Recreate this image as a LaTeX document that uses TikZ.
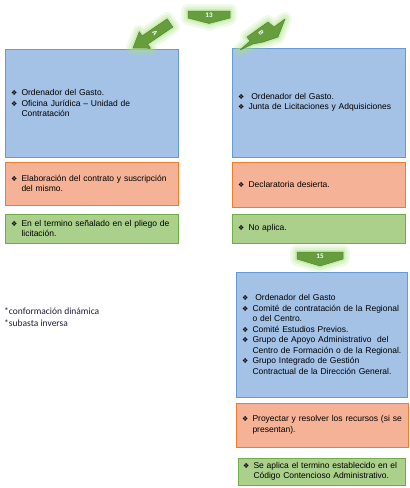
\documentclass[tikz,border=0pt]{standalone}
\usepackage{fontspec}
\setmainfont{Liberation Sans}
\newfontfamily\notefont{Carlito}
\newfontfamily\dingfont{DejaVu Sans}

\definecolor{bluefill}{RGB}{164,194,230}
\definecolor{blueline}{RGB}{100,155,215}
\definecolor{orangefill}{RGB}{246,178,150}
\definecolor{orangeline}{RGB}{237,125,49}
\definecolor{greenfill}{RGB}{170,208,140}
\definecolor{greenline}{RGB}{112,173,71}
\definecolor{arrowfill}{RGB}{102,158,62}
\definecolor{arrowline}{RGB}{84,136,48}
\definecolor{glowgreen}{RGB}{170,225,130}
\definecolor{notetext}{RGB}{30,30,60}

\newcommand{\bul}{\makebox[10.5pt][l]{\dingfont\fontsize{7}{7}\selectfont ❖}}
\newcommand{\hind}{\hspace*{10.5pt}}

\begin{document}
\begin{tikzpicture}[x=1pt,y=-1pt]
\tikzset{
  stagebox/.style={draw,line width=0.8pt,inner xsep=6pt,inner ysep=0pt,align=left,
    font=\fontsize{8.5}{10.5}\selectfont},
  bluebox/.style={stagebox,fill=bluefill,draw=blueline},
  orangebox/.style={stagebox,fill=orangefill,draw=orangeline},
  greenbox/.style={stagebox,fill=greenfill,draw=greenline},
  glowing/.style={
    preaction={draw=glowgreen,line width=14pt,opacity=0.18,line join=round},
    preaction={draw=glowgreen,line width=9pt,opacity=0.25,line join=round},
    preaction={draw=glowgreen,line width=4pt,opacity=0.4,line join=round}},
  greenshape/.style={glowing,fill=arrowfill,draw=arrowline,line width=0.5pt,line join=round},
  taglabel/.style={text=white,inner sep=0pt,font=\notefont\bfseries\fontsize{7}{7}\selectfont},
  notetext/.style={anchor=west,inner sep=0pt,text=notetext,font=\notefont\fontsize{9.5}{11}\selectfont}
}
\useasboundingbox (0,0) rectangle (410,488);

% left column
\node[bluebox,text width=161pt,minimum height=108pt] (box_a_who) at (91.5,103)
  {\bul Ordenador del Gasto.\\ \bul Oficina Jurídica -- Unidad de\\ \hind Contratación};
\node[orangebox,text width=161pt,minimum height=43pt] (box_a_act) at (91.5,183.5)
  {\bul Elaboración del contrato y suscripción\\ \hind del mismo.};
\node[greenbox,text width=161pt,minimum height=29pt] (box_a_time) at (91.5,228.5)
  {\bul En el termino señalado en el pliego de\\ \hind licitación.\\[6pt]};

% right column
\node[bluebox,text width=161pt,minimum height=109pt] (box_b_who) at (318.5,102.5)
  {\bul\ Ordenador del Gasto.\\ \bul Junta de Licitaciones y Adquisiciones};
\node[orangebox,text width=161pt,minimum height=45pt] (box_b_act) at (318.5,184.5)
  {\bul Declaratoria desierta.};
\node[greenbox,text width=161pt,minimum height=29pt] (box_b_time) at (318.5,228.5)
  {\bul No aplica.};

% step 15
\node[bluebox,text width=159pt,minimum height=125pt] (box_c_who) at (321.5,334.5)
  {\bul\ Ordenador del Gasto\\
   \bul Comité de contratación de la Regional\\ \hind o del Centro.\\
   \bul Comité Estudios Previos.\\
   \bul Grupo de Apoyo Administrativo\ \ del\\ \hind\mbox{Centro de Formación o de la Regional.}\\
   \bul Grupo Integrado de Gestión\\ \hind Contractual de la Dirección General.};
\node[orangebox,text width=160pt,minimum height=44pt] (box_c_act) at (322,425)
  {\bul Proyectar y resolver los recursos (si se\\ \hind presentan).};
\node[greenbox,inner xsep=5pt,text width=157pt,minimum height=27pt] (box_c_time) at (321.5,471.5)
  {\bul Se aplica el termino establecido en el\\ \hind Código Contencioso Administrativo.};

% notes
\node[notetext] (note_dyn) at (4,311) {*conformación dinámica};
\node[notetext] (note_sub) at (4,323) {*subasta inversa};

% tags and arrows
\draw[greenshape] (188,11) -- (230,11) -- (230,18) -- (209,23.5) -- (188,18) -- cycle;
\node[taglabel] (tag_13) at (209,15) {13};
\draw[greenshape] (297,252) -- (343,252) -- (343,259) -- (320,266) -- (297,259) -- cycle;
\node[taglabel] (tag_15) at (320,256) {15};

\draw[greenshape] (172.8,27.1) -- (167.2,18.9) -- (142.1,35.9) -- (139.3,31.7)
  -- (133,48) -- (150.5,48.3) -- (147.7,44.1) -- cycle;
\node[taglabel,rotate=-56] (tag_a) at (155,33) {A};

\draw[greenshape] (240,50) -- (250,41) -- (247,37) -- (268,22) -- (274,27)
  -- (285,19) -- (278,37) -- (263,42) -- (253,44) -- cycle;
\node[taglabel,rotate=-56] (tag_b) at (261,33) {B};
\end{tikzpicture}
\end{document}
